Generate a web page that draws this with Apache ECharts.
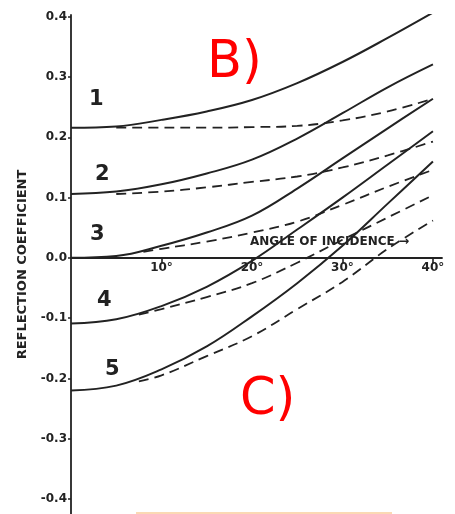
<!DOCTYPE html>
<html>
<head>
<meta charset="utf-8">
<script src="https://cdn.jsdelivr.net/npm/echarts@6/dist/echarts.min.js"></script>
<style>
  html, body { margin: 0; padding: 0; background: #fff; }
  #chart { width: 455px; height: 514px; }
</style>
</head>
<body>
<div id="chart"></div>
<script>
// angles (deg) where curves are sampled
const solidAngles = [0, 5, 10, 15, 20, 25, 30, 35, 40];
const solid1 = [0.216, 0.218, 0.229, 0.243, 0.262, 0.290, 0.325, 0.365, 0.407];
const solid2 = [0.106, 0.110, 0.122, 0.140, 0.163, 0.198, 0.240, 0.283, 0.321];
const solid3 = [0.000, 0.003, 0.020, 0.042, 0.070, 0.115, 0.165, 0.215, 0.264];
const solid4 = [-0.109, -0.102, -0.080, -0.048, -0.005, 0.047, 0.100, 0.155, 0.210];
const solid5 = [-0.220, -0.212, -0.185, -0.147, -0.097, -0.042, 0.020, 0.090, 0.160];

// dashed curves branch off the solid ones a few degrees in
const dashAngles1 = [5, 10, 15, 20, 25, 30, 35, 40];
const dashed1 = [0.216, 0.216, 0.216, 0.217, 0.219, 0.228, 0.243, 0.264];
const dashAngles2 = [5, 10, 15, 20, 25, 30, 35, 40];
const dashed2 = [0.106, 0.110, 0.117, 0.126, 0.135, 0.150, 0.170, 0.193];
const dashAngles3 = [8, 10, 15, 20, 25, 30, 35, 40];
const dashed3 = [0.010, 0.015, 0.027, 0.042, 0.060, 0.088, 0.118, 0.146];
const dashAngles4 = [7.5, 10, 15, 20, 25, 30, 35, 40];
const dashed4 = [-0.094, -0.085, -0.065, -0.042, -0.008, 0.030, 0.067, 0.104];
const dashAngles5 = [7.5, 10, 15, 20, 25, 30, 35, 40];
const dashed5 = [-0.205, -0.195, -0.163, -0.130, -0.085, -0.040, 0.015, 0.062];

const xTicks = [10, 20, 30, 40];
const yTicks = [-0.4, -0.3, -0.2, -0.1, 0, 0.1, 0.2, 0.3, 0.4];
const curveNames = ['1', '2', '3', '4', '5'];

const solids = [solid1, solid2, solid3, solid4, solid5];
const dashes = [
    [dashAngles1, dashed1], [dashAngles2, dashed2], [dashAngles3, dashed3],
    [dashAngles4, dashed4], [dashAngles5, dashed5]
];

const ink = '#222';
const series = [];
solids.forEach((vals, i) => {
    series.push({
        name: 'solid ' + curveNames[i],
        type: 'line',
        data: solidAngles.map((a, k) => [a, vals[k]]),
        smooth: 0.4,
        symbol: 'none',
        lineStyle: { color: ink, width: 2 }
    });
});
dashes.forEach(([ang, vals], i) => {
    series.push({
        name: 'dashed ' + curveNames[i],
        type: 'line',
        data: ang.map((a, k) => [a, vals[k]]),
        smooth: 0.4,
        symbol: 'none',
        lineStyle: { color: ink, width: 1.8, type: [10, 6] }
    });
});

// curve numbers, placed next to the curve starts
const numberPos = [[89, 89], [95, 164], [90, 224], [97, 290], [105, 359]];
const numberTexts = numberPos.map((p, i) => ({
    type: 'text',
    left: p[0],
    top: p[1],
    style: { text: curveNames[i], font: 'bold 21px "DejaVu Sans"', fill: ink }
}));

const chart = echarts.init(document.getElementById('chart'));
chart.setOption({
    backgroundColor: '#fff',
    animation: false,
    title: [
        { text: 'B)', left: 202, top: 33, textStyle: { color: '#ff0000', fontSize: 51, fontWeight: 'normal', fontFamily: 'DejaVu Sans' } },
        { text: 'C)', left: 235, top: 370, textStyle: { color: '#ff0000', fontSize: 51, fontWeight: 'normal', fontFamily: 'DejaVu Sans' } }
    ],
    grid: { left: 71, right: 13, top: 15, bottom: 0, containLabel: false, outerBoundsMode: 'none' },
    xAxis: {
        type: 'value',
        min: 0,
        max: 41,
        axisLine: { onZero: true, lineStyle: { color: ink, width: 1.8 } },
        axisTick: { customValues: xTicks, length: 6, lineStyle: { color: ink, width: 1.6 } },
        axisLabel: {
            customValues: xTicks,
            formatter: '{value}°',
            color: ink,
            fontWeight: 'bold',
            fontSize: 12,
            fontFamily: 'DejaVu Sans',
            // labels stay at the grid bottom, pull them up under the zero line
            margin: -252
        },
        splitLine: { show: false }
    },
    yAxis: {
        type: 'value',
        min: -0.425,
        max: 0.403,
        name: 'REFLECTION COEFFICIENT',
        nameLocation: 'middle',
        nameGap: 42,
        nameTextStyle: { color: ink, fontWeight: 'bold', fontSize: 13, fontFamily: 'DejaVu Sans' },
        axisLine: { lineStyle: { color: ink, width: 1.8 } },
        axisTick: { customValues: yTicks, length: 3, lineStyle: { color: ink, width: 1.5 } },
        axisLabel: {
            customValues: yTicks,
            formatter: v => v.toFixed(1),
            color: ink,
            fontWeight: 'bold',
            fontSize: 12,
            fontFamily: 'DejaVu Sans',
            margin: 4
        },
        splitLine: { show: false }
    },
    graphic: [
        {
            type: 'text',
            left: 250,
            top: 236,
            style: { text: 'ANGLE OF INCIDENCE →', font: 'bold 12px "DejaVu Sans"', fill: ink }
        },
        {
            type: 'rect',
            shape: { x: 136, y: 512, width: 256, height: 2 },
            style: { fill: '#fbd9b4' }
        }
    ].concat(numberTexts),
    series: series
});
</script>
</body>
</html>
